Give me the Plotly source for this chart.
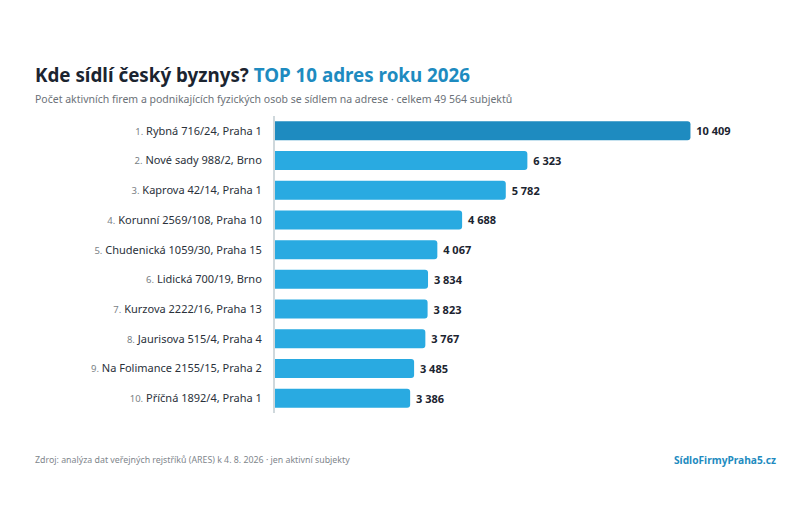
import plotly.graph_objects as go

ranks = ["1.", "2.", "3.", "4.", "5.", "6.", "7.", "8.", "9.", "10."]
addresses = [
    "Rybná 716/24, Praha 1",
    "Nové sady 988/2, Brno",
    "Kaprova 42/14, Praha 1",
    "Korunní 2569/108, Praha 10",
    "Chudenická 1059/30, Praha 15",
    "Lidická 700/19, Brno",
    "Kurzova 2222/16, Praha 13",
    "Jaurisova 515/4, Praha 4",
    "Na Folimance 2155/15, Praha 2",
    "Příčná 1892/4, Praha 1",
]
counts = [10409, 6323, 5782, 4688, 4067, 3834, 3823, 3767, 3485, 3386]

FONT = "Noto Sans"
labels = [f"<span style='font-size:9.5px;color:#7a7f85'>{r}</span> {a}" for r, a in zip(ranks, addresses)]
value_text = ["\u00a0" + f"{v:,}".replace(",", "\u00a0") for v in counts]
colors = ["#1e8bc0"] + ["#29aae1"] * (len(counts) - 1)

fig = go.Figure(go.Bar(
    x=counts,
    y=labels,
    orientation="h",
    marker=dict(color=colors, cornerradius=3, line=dict(width=0)),
    text=value_text,
    textposition="outside",
    textfont=dict(family=FONT, size=11, color="#1b2430", weight="bold"),
    cliponaxis=False,
    hoverinfo="skip",
))

fig.update_layout(
    width=800, height=510,
    paper_bgcolor="white", plot_bgcolor="white",
    margin=dict(l=267, r=74, t=108, b=105),
    bargap=0.36,
    showlegend=False,
    font=dict(family=FONT, size=11, color="#2a313a"),
    xaxis=dict(range=[0, 11500], visible=False, fixedrange=True),
    yaxis=dict(
        autorange="reversed",
        showgrid=False,
        showline=True, linecolor="#cfd8dc", linewidth=2,
        ticks="", ticklabelstandoff=9,
        tickfont=dict(family=FONT, size=11, color="#2a313a"),
    ),
    annotations=[
        dict(xref="paper", yref="paper", x=-0.527, y=1.138, xanchor="left", yanchor="middle",
             text="<b>Kde sídlí český byznys? <span style='color:#1e8bc0'>TOP 10 adres roku 2026</span></b>",
             showarrow=False, font=dict(family=FONT, size=18.8, color="#1b2430")),
        dict(xref="paper", yref="paper", x=-0.527, y=1.057, xanchor="left", yanchor="middle",
             text="Počet aktivních firem a podnikajících fyzických osob se sídlem na adrese · celkem 49 564 subjektů",
             showarrow=False, font=dict(family=FONT, size=10.5, color="#6b7178")),
        dict(xref="paper", yref="paper", x=-0.527, y=-0.158, xanchor="left", yanchor="middle",
             text="Zdroj: analýza dat veřejných rejstříků (ARES) k 4. 8. 2026 · jen aktivní subjekty",
             showarrow=False, font=dict(family=FONT, size=8.8, color="#80868c")),
        dict(xref="paper", yref="paper", x=1.096, y=-0.158, xanchor="right", yanchor="middle",
             text="<b>SídloFirmyPraha5.cz</b>",
             showarrow=False, font=dict(family=FONT, size=10.2, color="#1e8bc0")),
    ],
)

fig.write_html("out.html")
